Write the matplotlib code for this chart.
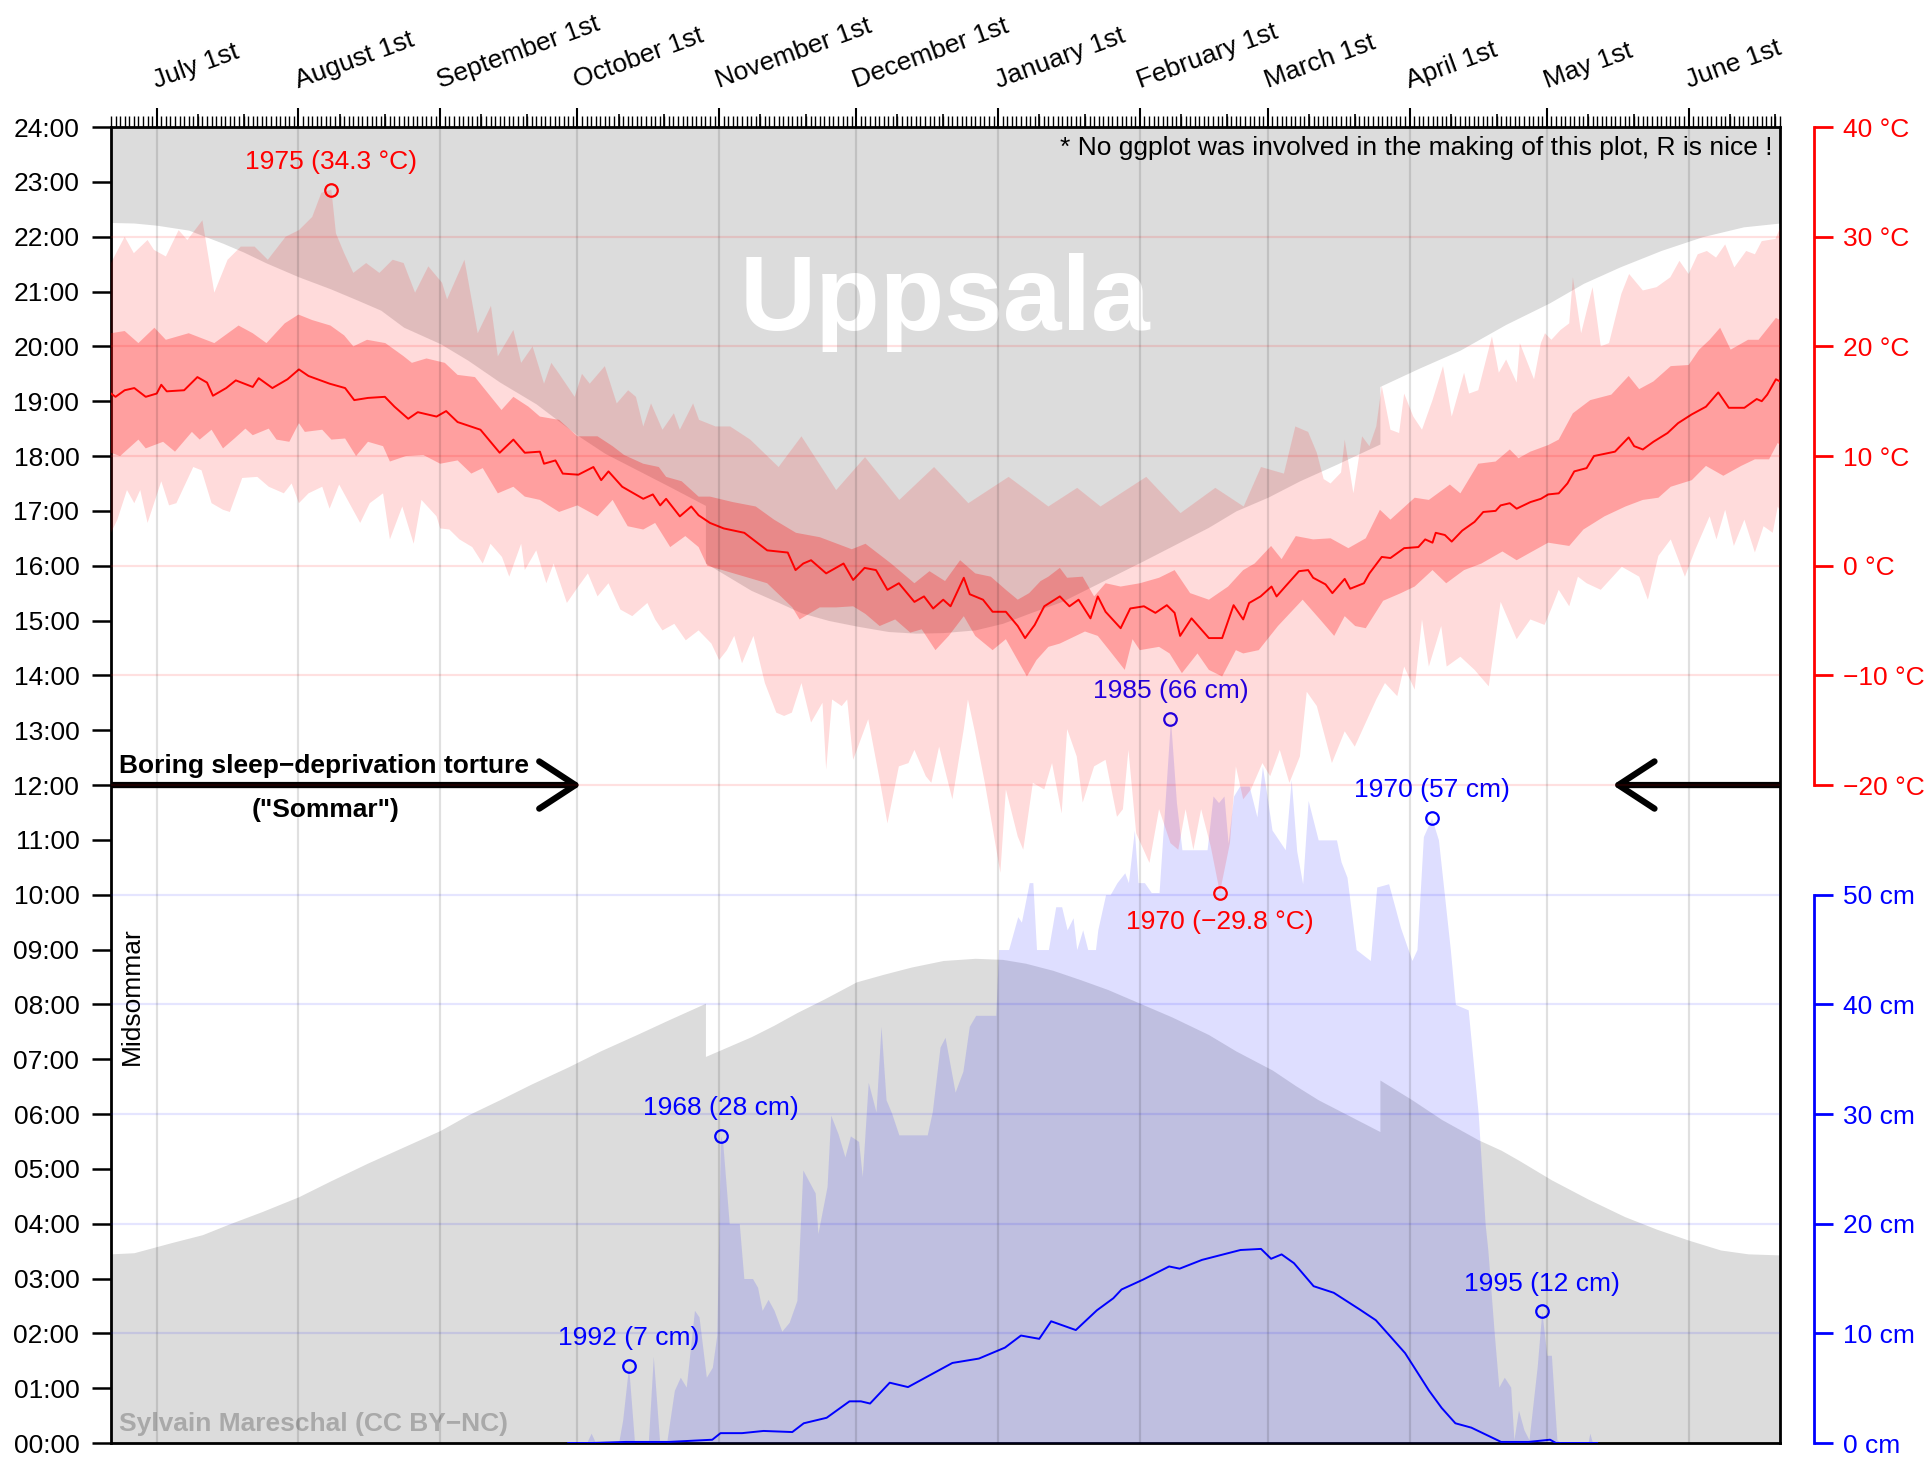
import numpy as np
import matplotlib
matplotlib.use("Agg")
import matplotlib.pyplot as plt
from matplotlib.patches import FancyArrowPatch

plt.rcParams["font.family"] = ["Liberation Sans", "DejaVu Sans"]

# x axis = days after midsommar (June 21st), 0..365
month_day = [10, 41, 72, 102, 133, 163, 194, 225, 253, 284, 314, 345]
month_label = ["July 1st", "August 1st", "September 1st", "October 1st",
               "November 1st", "December 1st", "January 1st", "February 1st",
               "March 1st", "April 1st", "May 1st", "June 1st"]
day10_20 = [19, 29, 50, 60, 81, 91, 111, 121, 142, 152, 172, 182, 203, 213,
            234, 244, 262, 272, 293, 303, 323, 333, 354, 364]
hour_ticks = list(range(25))
temp_ticks = [-20, -10, 0, 10, 20, 30, 40]
snow_ticks = [0, 10, 20, 30, 40, 50]

# daylight (hours, local time incl. DST jumps)
sunrise_day = [0, 5, 13, 20, 26, 33, 41, 48, 56, 64, 72, 78, 85, 92, 100, 107, 115, 122,
               130, 130, 140, 145, 150, 156, 163, 169, 175, 182, 189, 195, 200, 206, 212,
               218, 225, 232, 240, 246, 254, 259, 264, 277.5, 277.5, 284.5, 291, 299, 304,
               308, 315, 323, 331, 338, 345, 352, 358, 365]
sunrise_h = [3.45, 3.47, 3.65, 3.8, 4.0, 4.22, 4.49, 4.78, 5.1, 5.4, 5.7, 5.98, 6.26,
             6.55, 6.86, 7.15, 7.45, 7.72, 8.02, 7.05, 7.41, 7.62, 7.85, 8.1, 8.41, 8.55,
             8.68, 8.8, 8.84, 8.82, 8.75, 8.62, 8.45, 8.27, 8.02, 7.77, 7.45, 7.15, 6.8,
             6.52, 6.26, 5.68, 6.62, 6.26, 5.9, 5.53, 5.34, 5.15, 4.8, 4.45, 4.13, 3.9, 3.7,
             3.52, 3.45, 3.43]
sunset_day = [0, 5, 10, 17, 24.5, 29, 34, 41, 48, 54, 59, 64, 72, 78, 85, 93, 102, 108,
              115, 122, 130, 130, 135, 140, 146, 151, 157, 163, 170, 176, 182, 189, 195, 201,
              208, 214, 220, 226, 233, 240, 246, 253, 260, 268, 277.5, 277.5, 286, 295, 305,
              314.5, 322, 330, 339, 348, 357, 365]
sunset_h = [22.26, 22.25, 22.21, 22.12, 21.88, 21.72, 21.52, 21.27, 21.05, 20.84, 20.66,
            20.35, 20.05, 19.75, 19.35, 18.95, 18.38, 18.05, 17.75, 17.45, 17.1, 16.05, 15.8,
            15.55, 15.33, 15.14, 15.0, 14.9, 14.8, 14.77, 14.78, 14.83, 14.95, 15.14, 15.35,
            15.6, 15.85, 16.1, 16.4, 16.7, 17.0, 17.25, 17.55, 17.85, 18.22, 19.27, 19.6,
            19.93, 20.4, 20.79, 21.15, 21.45, 21.75, 22.0, 22.18, 22.25]

# temperature (deg C): mean, inner band, min/max envelope
tmean_day = [0, 1, 3, 5.1, 7.6, 10, 11, 12.2, 16, 18.9, 21, 22.3, 25.2, 27.3, 31, 32.3,
             35.3, 38.6, 41.1, 43.2, 47.8, 51.2, 53.2, 56.2, 59.9, 62, 65, 67.1, 71.2, 73.3,
             75.8, 80.8, 85, 88, 90.5, 93.8, 94.7, 97.2, 98.8, 102.2, 105.5, 107.2, 108.8,
             111.8, 116.4, 118.5, 120.1, 121.4, 124.4, 126.9, 128.5, 131, 134, 138.5, 143.5,
             148, 149.7, 151.4, 153.1, 156.4, 160.2, 162.3, 164.8, 167.3, 169.8, 172.3,
             175.7, 177.8, 179.8, 182, 183.6, 186.5, 187.8, 190.7, 192.8, 195.7, 198.3,
             199.9, 202, 204.1, 207.5, 209.6, 211.6, 214.2, 215.8, 217.5, 220.8, 222.9,
             225.9, 228.4, 230.9, 232.6, 233.8, 236.3, 240.1, 243, 245.5, 247.6, 248.9,
             251.4, 253.8, 254.9, 256.8, 259.8, 261.8, 262.9, 265.6, 267.1, 269.8, 271,
             274, 275.2, 277.9, 279.8, 282.8, 285.9, 287.4, 289, 289.7, 291.7, 293.2,
             295.5, 298.2, 300.1, 302.8, 303.9, 305.9, 307.4, 310.4, 312.7, 314.3, 316.6,
             318.5, 320, 322.7, 324.3, 328.9, 331.9, 333.1, 335, 337.3, 340.4, 342.7,
             345.7, 348.8, 351.5, 353.8, 357.2, 359.9, 361, 362.2, 364.1, 365]
tmean = [15.7, 15.4, 16.0, 16.2, 15.4, 15.7, 16.5, 15.9, 16.0, 17.2, 16.7, 15.5, 16.2,
         16.9, 16.3, 17.1, 16.2, 17.0, 17.9, 17.3, 16.6, 16.2, 15.1, 15.3, 15.4, 14.5,
         13.4, 14.0, 13.6, 14.1, 13.1, 12.4, 10.3, 11.5, 10.3, 10.4, 9.3, 9.6, 8.4, 8.3,
         9.0, 7.8, 8.6, 7.2, 6.1, 6.5, 5.5, 6.1, 4.5, 5.4, 4.6, 3.9, 3.4, 3.0, 1.4, 1.2,
         -0.4, 0.2, 0.5, -0.7, 0.2, -1.3, -0.2, -0.4, -2.2, -1.6, -3.3, -2.8, -3.9, -3.1,
         -3.7, -1.1, -2.6, -3.1, -4.2, -4.2, -5.5, -6.6, -5.4, -3.7, -2.8, -3.7, -3.1,
         -4.8, -2.8, -4.2, -5.7, -3.9, -3.7, -4.3, -3.6, -4.3, -6.4, -4.8, -6.6, -6.6,
         -3.6, -4.9, -3.4, -2.8, -1.9, -2.8, -1.9, -0.5, -0.4, -1.1, -1.7, -2.5, -1.2,
         -2.1, -1.6, -0.7, 0.8, 0.7, 1.6, 1.7, 2.4, 2.1, 3.0, 2.8, 2.2, 3.2, 4.0, 4.9,
         5.0, 5.5, 5.7, 5.2, 5.8, 6.1, 6.5, 6.6, 7.5, 8.6, 8.9, 10.0, 10.4, 11.7, 10.9,
         10.6, 11.3, 12.1, 13.0, 13.8, 14.5, 15.8, 14.4, 14.4, 15.2, 15.0, 15.6, 17.0, 16.8]

thi_day = [0, 3, 6, 9.5, 12, 17, 22.6, 27.9, 31, 34, 38, 41, 44, 48, 51, 53, 56, 60, 64,
           65.8, 69, 73, 75.8, 79.6, 85.4, 88, 91.3, 93.8, 98, 102, 106.4, 109.7, 112.2,
           116.4, 119.8, 121.4, 124.8, 128.5, 131, 136, 141, 145, 149.8, 155, 162, 165,
           170.6, 175.7, 179, 182.4, 185.7, 189, 192.4, 195.7, 198.3, 200.8, 203.3, 205,
           207.5, 209.1, 212.5, 215, 217.5, 220.8, 225, 229.2, 232.6, 236, 240.1, 244.3,
           247.6, 250.1, 253.7, 256, 259.1, 262.9, 266.7, 270.6, 274.4, 277.5, 279.8,
           285.1, 288.2, 292.8, 295.1, 299, 302.8, 305.9, 307.8, 310.4, 314.3, 316.6,
           319.7, 323.5, 328.1, 331.9, 334.2, 337.3, 341.1, 345, 347.3, 349.6, 351.9,
           354.2, 358, 360.3, 362.6, 364.1, 365]
thi = [21.2, 21.4, 20.3, 21.7, 20.6, 21.2, 20.3, 21.9, 21.2, 20.3, 22.1, 22.9, 22.4, 21.9,
       21.0, 20.0, 20.6, 20.3, 19.1, 18.5, 18.9, 18.5, 17.4, 17.2, 14.2, 15.4, 14.5, 13.6,
       13.3, 11.8, 11.8, 10.9, 10.1, 9.3, 9.0, 8.1, 7.7, 6.3, 6.3, 5.8, 5.4, 4.2, 3.0, 2.6,
       1.5, 2.0, 0.2, -1.6, -0.5, -1.4, 0.5, -0.7, -1.0, -2.2, -3.1, -2.5, -1.4, -1.0,
       -0.2, -1.1, -1.0, -2.8, -1.6, -1.9, -1.6, -1.1, -0.4, -2.5, -3.1, -1.9, -0.4, 0.2,
       1.8, 0.6, 2.7, 2.4, 2.5, 1.6, 2.5, 5.1, 4.2, 6.2, 6.0, 7.4, 6.6, 9.3, 9.5, 10.6,
       9.8, 10.4, 11.0, 11.5, 13.9, 15.1, 15.6, 17.3, 16.1, 16.8, 18.2, 18.3, 19.7, 20.6,
       21.7, 19.7, 20.6, 20.6, 21.8, 22.6, 22.4]

tlo_day = [0, 2, 6, 7.6, 11.4, 14, 17.7, 19.4, 22, 24.5, 27, 29.4, 31, 34.5, 36.2, 39,
           41.1, 42.4, 46.2, 48.2, 51.2, 53.6, 56.2, 59.5, 61, 64.5, 68.3, 72, 75.8, 78.8,
           81.3, 84.6, 88, 90.5, 93.8, 98, 102, 106.4, 109.7, 113, 116.4, 119, 122.3,
           125.6, 128.5, 130.4, 137, 143.5, 149, 150.6, 155, 158.6, 162.3, 165, 168.1,
           171.5, 174.8, 177.3, 180.3, 183.2, 186.5, 189, 192.8, 195.7, 200.3, 202.4, 205,
           207.5, 210, 213, 215.8, 218.3, 221.7, 223.4, 225, 229.2, 231.5, 234.2, 237.6,
           240.1, 243, 246, 247.6, 251, 255.2, 260.6, 264.4, 267.5, 269.8, 272.1, 274.4,
           278.2, 282.1, 285.1, 289, 292, 295.9, 299.7, 304.3, 307.4, 310.4, 314.3, 318.9,
           322, 326.6, 331.2, 335, 338.4, 341.1, 345.7, 348.8, 352.6, 356.5, 359.5, 362.6,
           364.5, 365]
tlo = [10.3, 10.0, 11.5, 10.7, 11.3, 10.4, 12.2, 11.5, 12.4, 10.7, 11.6, 12.5, 11.9, 12.5,
       11.5, 11.3, 13.0, 12.2, 12.4, 11.5, 11.6, 10.0, 11.3, 10.9, 9.5, 10.0, 10.1, 9.3,
       9.6, 8.4, 8.9, 6.6, 7.2, 6.3, 6.0, 4.9, 5.5, 4.5, 6.0, 3.6, 3.3, 3.9, 1.7, 2.7, 1.7,
       0.0, -0.8, -1.6, -3.8, -4.9, -3.8, -3.8, -3.7, -4.4, -5.5, -4.9, -6.1, -5.8, -7.7,
       -6.4, -4.6, -6.4, -7.7, -6.7, -10.1, -8.6, -7.4, -7.1, -6.6, -6.0, -6.4, -7.7,
       -9.5, -6.7, -7.7, -7.4, -8.0, -9.8, -8.0, -9.5, -10.1, -7.7, -8.0, -7.7, -5.5,
       -3.1, -4.9, -6.4, -4.6, -5.5, -5.7, -3.2, -2.5, -1.9, -0.4, -1.6, -0.4, 0.2, 1.3,
       0.5, 1.2, 2.1, 1.8, 3.3, 4.5, 5.4, 6.0, 6.2, 7.2, 7.8, 9.1, 8.2, 9.1, 9.7, 9.7,
       11.2, 11.0]

tmax_day = [0, 3, 5, 8, 9.4, 12, 14.8, 16.7, 20, 22.6, 25.5, 28.4, 31.4, 34.3, 38.2, 41.1,
            44, 46, 48.2, 49.2, 51, 53, 55.8, 58.7, 61.6, 64, 66.5, 69.4, 72.4, 73.5, 77.3,
            80.2, 83.1, 84.6, 88, 89.7, 92.2, 94.7, 96.3, 98, 101.4, 103, 104.7, 108, 110.6,
            113.1, 114.8, 116.4, 118.1, 120.6, 123.1, 124.4, 127.3, 128.6, 132.2, 135.4,
            139.8, 146, 151, 158.6, 164.9, 172.4, 180, 187.5, 196.3, 205, 211.3, 216.4,
            226.4, 233.9, 241.5, 247.7, 251.5, 256.5, 259, 261.8, 263.7, 265.2, 266.7, 269,
            269.8, 271.7, 273.6, 275.2, 276.7, 277.9, 279.8, 281.7, 282.8, 284.8, 286.7,
            289, 291.3, 293.2, 295.9, 297, 299, 302, 303.5, 305.1, 307.4, 308.1, 311.2,
            312.7, 313.6, 315, 317, 318.9, 319.7, 321.5, 324, 325.8, 327.6, 330.3, 332, 335,
            338, 341, 343, 345, 347, 349, 351, 353, 355, 357.6, 359.5, 361, 364, 365]
tmax = [27.6, 30.0, 28.5, 29.7, 28.8, 28.2, 30.6, 29.7, 31.5, 24.9, 27.9, 29.1, 29.1, 27.9,
        30.0, 30.6, 31.8, 34.0, 34.3, 30.3, 28.5, 26.7, 27.6, 26.7, 27.9, 27.6, 24.9, 27.3,
        25.8, 24.3, 27.9, 21.2, 23.7, 19.1, 21.5, 18.5, 20.0, 16.6, 18.5, 17.5, 15.4, 17.5,
        16.6, 18.2, 14.8, 16.0, 15.4, 12.7, 14.8, 12.4, 13.9, 12.4, 14.8, 13.3, 12.7, 12.7,
        11.5, 9.0, 11.8, 6.9, 9.9, 6.0, 9.0, 5.7, 8.1, 5.4, 7.1, 5.4, 8.1, 4.8, 7.1, 5.4,
        9.0, 8.4, 12.7, 12.2, 10.3, 7.9, 7.5, 8.5, 11.5, 6.6, 11.8, 10.9, 12.7, 16.4, 12.4,
        12.1, 15.7, 13.6, 12.4, 15.1, 18.2, 13.6, 17.6, 15.7, 16.0, 20.9, 17.6, 18.8, 16.7,
        20.3, 17.0, 20.3, 21.2, 20.6, 21.5, 22.1, 26.3, 21.2, 25.4, 20.0, 20.3, 24.8, 26.6,
        25.1, 25.4, 26.3, 27.8, 26.6, 28.4, 28.7, 28.1, 29.3, 27.2, 28.7, 28.4, 29.6, 29.8,
        30.8]

tmin_day = [0, 1.4, 3.5, 5.1, 6.4, 8, 11, 12.7, 14.3, 18, 19.8, 22, 24.5, 26, 28.7, 32,
            34.5, 37.8, 39.5, 41.1, 43.2, 46.2, 47.8, 49.9, 54.5, 56.6, 59.5, 61, 63.7,
            66.2, 67.9, 71.2, 72, 74, 76.2, 79, 81.3, 83, 85.5, 87.1, 89.7, 90.5, 93, 95.2,
            96.8, 99.7, 102.2, 104.3, 106.4, 108.8, 111.4, 114, 117.3, 119, 120.6, 123.2,
            125.7, 128.5, 131.3, 133, 134.7, 136.3, 138, 140.5, 143, 145.5, 147.2, 148.9,
            151, 153.1, 155.6, 156.4, 157.7, 159.8, 161, 162.3, 165.6, 168.1, 169.8, 172.3,
            174.4, 175.7, 178.2, 179.4, 181.1, 184, 186.5, 187.4, 189, 191.1, 194.5, 195.7,
            198.3, 199.5, 201.6, 204.1, 205.8, 207.9, 209.1, 211.2, 212.5, 215, 217.5, 220,
            221.3, 222.5, 224.2, 227.1, 229.2, 231.7, 233.4, 235, 236.7, 238.4, 240.5,
            242.5, 244.7, 246, 247.6, 249.3, 251.8, 253.5, 255.6, 257.7, 260, 261.5, 263.7,
            267, 269.8, 272, 276.7, 278.6, 281.3, 282.8, 285.1, 286.7, 288.2, 290.9, 292.1,
            295.1, 298.2, 301.3, 303.9, 307.4, 310.4, 313.5, 315, 316.6, 318.9, 320.8,
            322.7, 325.8, 330.4, 334.2, 336.1, 338.4, 341.1, 344.2, 346.5, 349.6, 351.1,
            353, 354.9, 357.2, 359.5, 361.4, 363.4, 364.5, 365]
tmin = [3.0, 4.2, 6.9, 5.7, 6.9, 3.9, 7.7, 5.5, 5.7, 9.0, 8.7, 5.7, 5.1, 4.9, 8.0, 8.1, 7.2,
        6.6, 7.5, 5.7, 6.6, 7.2, 5.2, 7.4, 3.9, 5.7, 6.6, 2.4, 5.4, 2.0, 6.0, 4.5, 3.4, 3.3,
        2.4, 1.7, 0.2, 2.0, 0.8, -1.0, 2.0, -0.4, 1.4, -1.6, 0.2, -3.4, -1.9, -0.7, -2.8,
        -1.6, -4.0, -4.6, -3.4, -4.9, -5.9, -5.3, -6.8, -5.9, -7.1, -8.6, -7.7, -6.4, -8.9,
        -6.4, -10.7, -13.4, -13.7, -13.4, -10.7, -14.3, -12.5, -18.6, -12.2, -12.8, -12.2,
        -17.7, -14.0, -19.5, -23.5, -18.3, -18.0, -16.8, -19.2, -19.8, -16.5, -21.3, -14.9,
        -12.2, -15.3, -19.8, -28.0, -20.4, -24.7, -25.9, -19.8, -20.4, -18.0, -22.6, -14.9,
        -17.4, -21.6, -18.3, -17.7, -22.9, -22.2, -16.8, -24.4, -27.1, -22.2, -25.3, -25.9,
        -22.2, -25.9, -22.2, -25.6, -29.8, -25.3, -18.3, -21.3, -20.4, -18.0, -19.2, -16.8,
        -19.8, -17.4, -11.5, -12.8, -18.0, -15.1, -16.5, -12.2, -10.7, -11.9, -9.2, -11.3,
        -4.9, -9.2, -5.5, -9.2, -8.3, -9.5, -11.0, -3.3, -6.7, -4.9, -5.4, -3.9, -2.2, -3.7,
        -1.0, -1.6, -2.2, -0.1, -1.0, -3.1, 0.9, 2.4, -1.0, 1.5, 4.5, 2.4, 5.1, 1.8, 4.2,
        1.2, 3.6, 3.0, 5.4, 5.0]

# snow depth (cm): max over years and mean
snow_day = [100, 104, 105, 106, 111, 111.9, 113.2, 114.5, 117.5, 118.6, 120, 121.5, 123.2,
            124.5, 125.8, 127.6, 128.6, 130.2, 131.5, 132.5, 133.3, 133.8, 135.2, 137.4,
            138.4, 140.3, 141.4, 142.4, 143.7, 145, 146.7, 148.3, 150, 151.3, 154, 154.6,
            156.6, 157.4, 159, 160.5, 161.7, 163.5, 164.3, 165.6, 167.3, 168.4, 169.5,
            170.7, 172.3, 178.5, 179.6, 181.3, 182.4, 184.6, 186.3, 187.7, 189.1, 193.5,
            194.1, 196.3, 198.3, 199.1, 200.8, 201.6, 202.4, 205, 206.6, 207.9, 209.1,
            210.4, 211.2, 212.5, 213.6, 215.3, 215.8, 217.5, 218.5, 220, 221.7, 222.5,
            223.8, 224.6, 226, 227.5, 229.2, 230.5, 231.7, 233, 234.2, 239.7, 241, 242.2,
            243.4, 244.3, 245.5, 246.8, 248.9, 250.6, 251.8, 252.7, 253.9, 256.8, 258.1,
            259.3, 260.6, 261.8, 264, 268, 269, 270.3, 272.3, 275.4, 276.8, 279.4, 282,
            284.5, 285.6, 287, 288.8, 290.3, 292.9, 294, 296.8, 299, 300.5, 301.1, 302.5,
            303.5, 304.7, 306.1, 306.8, 307.8, 309, 310.1, 311.9, 312.9, 314, 315, 316.2,
            317, 323, 323.4, 324]
snow_max = [0, 0, 0.9, 0, 0, 2.1, 7.0, 0, 0, 7.9, 0, 0, 4.8, 6.0, 5.1, 12.1, 11.5, 6.0, 6.9,
            9.9, 28.0, 27.3, 20.0, 20.0, 15.0, 15.0, 14.2, 12.1, 13.1, 12.1, 10.2, 11.0,
            13.0, 24.9, 22.8, 19.1, 23.4, 29.9, 28.2, 26.1, 28.0, 27.5, 24.3, 32.9, 30.2,
            38.0, 31.3, 30.1, 28.1, 28.1, 30.2, 36.1, 37.0, 32.0, 33.9, 38.0, 39.0, 39.0,
            45.0, 45.0, 48.0, 47.5, 51.1, 51.1, 45.0, 45.0, 48.9, 48.9, 46.8, 47.9, 45.0,
            46.8, 45.0, 45.0, 46.8, 50.0, 50.0, 51.1, 52.0, 51.1, 55.9, 51.1, 51.1, 50.2,
            50.2, 58.4, 66.0, 58.4, 54.1, 54.1, 59.0, 58.4, 59.0, 54.7, 59.0, 59.9, 59.9,
            57.1, 61.7, 59.3, 55.9, 54.1, 60.5, 54.0, 51.0, 58.6, 55.0, 55.0, 53.0, 51.6,
            45.0, 44.0, 50.7, 51.0, 47.0, 44.0, 45.0, 55.3, 57.0, 55.0, 45.0, 40.0, 39.5,
            30.0, 20.0, 17.6, 10.0, 5.1, 6.0, 5.1, 0.3, 3.0, 1.2, 0.3, 7.0, 12.0, 8.0, 8.0,
            0.3, 0, 0, 0.9, 0]
snowm_day = [100, 105, 112.6, 122, 131.5, 133.3, 138, 142.7, 149, 151.5, 156.5, 161.5, 164,
             166, 170.3, 174.3, 184, 189.8, 195.5, 199, 203, 205.6, 211, 215.6, 219.2, 221,
             225.7, 231.4, 233.7, 238.6, 247, 251.5, 253.7, 256, 258.7, 263, 267.4, 273,
             276.6, 279.6, 283, 285.3, 288.2, 291, 294, 297.5, 301, 304, 310, 314.7, 316, 325]
snow_mean = [0, 0, 0.1, 0.1, 0.3, 0.9, 0.9, 1.1, 1.0, 1.8, 2.3, 3.8, 3.8, 3.6, 5.5, 5.1, 7.3,
             7.7, 8.7, 9.8, 9.5, 11.1, 10.3, 12.1, 13.2, 14.0, 14.9, 16.1, 15.9, 16.7, 17.6,
             17.7, 16.8, 17.2, 16.4, 14.3, 13.7, 12.2, 11.2, 9.8, 8.2, 6.7, 4.8, 3.2, 1.8,
             1.4, 0.7, 0.1, 0.1, 0.3, 0, 0]

# record annotations
temp_rec_day = [48.2, 242.5]
temp_rec_val = [34.3, -29.8]
temp_rec_year = [1975, 1970]
snow_rec_day = [113.2, 133.3, 231.7, 288.8, 312.9]
snow_rec_val = [7, 28, 66, 57, 12]
snow_rec_year = [1992, 1968, 1985, 1970, 1995]

fig = plt.figure(figsize=(19.3, 14.57), dpi=100)
ax = fig.add_axes([0.0575, 0.0096, 0.8648, 0.9032])
ax.set_xlim(0, 365)
ax.set_ylim(0, 24)

# night
ax.fill_between(sunset_day, sunset_h, 24, color="#dcdcdc", lw=0, zorder=1)
ax.fill_between(sunrise_day, 0, sunrise_h, color="#dcdcdc", lw=0, zorder=1)

for s in ax.spines.values():
    s.set_linewidth(2)
ax.set_yticks(hour_ticks)
ax.set_yticklabels(["%02d:00" % h for h in hour_ticks], fontsize=19)
ax.tick_params(axis="y", direction="out", length=13.8, width=1.8, pad=9)

ax.xaxis.tick_top()
ax.set_xticks(month_day)
ax.set_xticklabels([])
ax.set_xticks(np.arange(0, 366), minor=True)
ax.tick_params(axis="x", which="major", direction="out", length=13.7, width=1.5)
ax.tick_params(axis="x", which="minor", direction="out", length=7.7, width=1)
sec = ax.secondary_xaxis("top")
sec.set_xticks(day10_20)
sec.set_xticklabels([])
sec.tick_params(length=9.6, width=1.2)
sec.spines["top"].set_visible(False)

for d, lab in zip(month_day, month_label):
    ax.annotate(lab, xy=(d, 1), xycoords=("data", "axes fraction"), xytext=(0, 28),
                textcoords="offset points", rotation=20, ha="left", va="baseline",
                rotation_mode="anchor", fontsize=19, annotation_clip=False)

ax.text(182.4, 20.3, "Uppsala", fontsize=76, fontweight="bold", color="white",
        ha="center", va="baseline", zorder=2)
ax.text(363.3, 23.62, "* No ggplot was involved in the making of this plot, R is nice !",
        ha="right", va="center", fontsize=19, zorder=6)
ax.text(1.8, 0.35, "Sylvain Mareschal (CC BY\u2212NC)", color="#a9a9a9",
        fontweight="bold", fontsize=19, ha="left", va="center", zorder=6)
ax.text(4.5, 6.9, "Midsommar", rotation=90, ha="center", va="bottom", fontsize=19, zorder=6)
ax.text(1.8, 12.22, "Boring sleep\u2212deprivation torture", fontsize=19,
        fontweight="bold", ha="left", va="baseline", zorder=6)
ax.text(47, 11.54, '("Sommar")', fontsize=19, fontweight="bold", ha="center",
        va="center", zorder=6)
for a, b in [((0, 12), (102.8, 12)), ((365, 12), (328.4, 12))]:
    arr = FancyArrowPatch(a, b, arrowstyle="->,head_length=26,head_width=17",
                          mutation_scale=1, lw=4.5, color="black", capstyle="round",
                          joinstyle="round", shrinkA=0, shrinkB=0, zorder=6)
    ax.add_patch(arr)

# right axes: snow and temperature
ax_s = ax.twinx()
ax_s.set_ylim(0, 120)
ax_t = ax.twinx()
ax_t.set_ylim(-80, 40)
for a, ticks, unit, col in [(ax_s, snow_ticks, "cm", "blue"), (ax_t, temp_ticks, "°C", "red")]:
    for side in ["left", "top", "bottom"]:
        a.spines[side].set_visible(False)
    a.spines["right"].set_position(("outward", 24.5))
    a.spines["right"].set_bounds(ticks[0], ticks[-1])
    a.spines["right"].set_color(col)
    a.spines["right"].set_linewidth(2)
    a.set_yticks(ticks)
    a.set_yticklabels([("%d %s" % (t, unit)).replace("-", "\u2212") for t in ticks],
                      fontsize=19)
    a.tick_params(axis="y", colors=col, length=14, width=2, pad=6.5)

ax_s.fill_between(snow_day, 0, snow_max, color=(0, 0, 1, 0.13), lw=0)
ax_s.plot(snowm_day, snow_mean, color="blue", lw=1.4)
for c in snow_ticks[1:]:
    ax_s.axhline(c, color=(0, 0, 1, 0.1), lw=1.6)

ax_t.fill(np.r_[tmax_day, tmin_day[::-1]], np.r_[tmax, tmin[::-1]],
          color=(1, 0, 0, 0.14), lw=0)
ax_t.fill(np.r_[thi_day, tlo_day[::-1]], np.r_[thi, tlo[::-1]],
          color=(1, 0, 0, 0.27), lw=0)
ax_t.plot(tmean_day, tmean, color="red", lw=1.4)
for t in temp_ticks[:-1]:
    ax_t.axhline(t, color=(1, 0, 0, 0.12), lw=1.6)
for d in month_day:
    ax_t.axvline(d, color=(0, 0, 0, 0.12), lw=1.6)

for d, v, y in zip(temp_rec_day, temp_rec_val, temp_rec_year):
    ax_t.plot(d, v, "o", ms=9, mfc="none", mec="red", mew=1.6, clip_on=False)
    ax_t.annotate(("%d (%.1f °C)" % (y, v)).replace("-", "\u2212"), xy=(d, v),
                  xytext=(0, 20 if v > 0 else -21), textcoords="offset points",
                  ha="center", va="center", color="red", fontsize=19)
for d, v, y in zip(snow_rec_day, snow_rec_val, snow_rec_year):
    ax_s.plot(d, v, "o", ms=9, mfc="none", mec="blue", mew=1.6)
    ax_s.annotate("%d (%d cm)" % (y, v), xy=(d, v), xytext=(0, 20),
                  textcoords="offset points", ha="center", va="center",
                  color="blue", fontsize=19)

fig.savefig("out.png", dpi=100)
